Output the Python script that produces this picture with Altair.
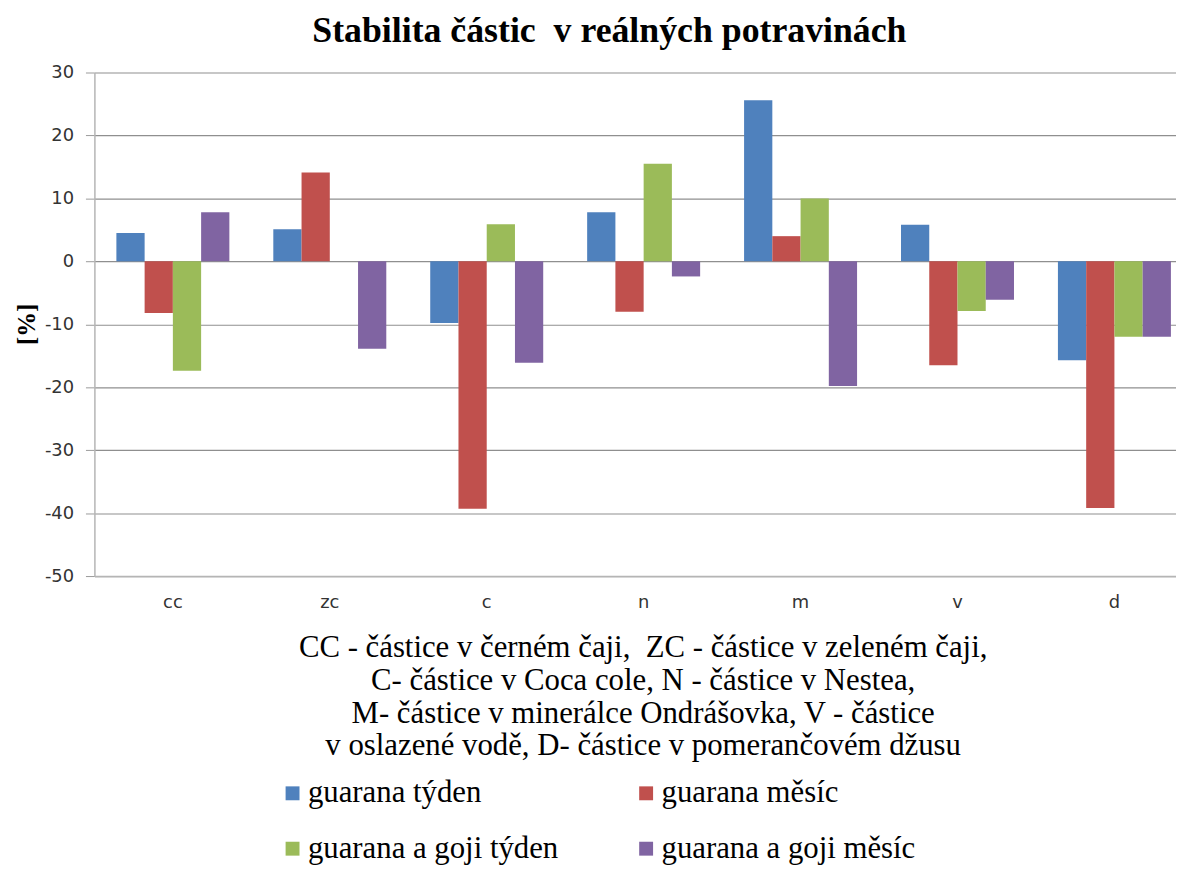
import altair as alt
import pandas as pd

categories = ["cc", "zc", "c", "n", "m", "v", "d"]
series_names = ["guarana týden", "guarana měsíc", "guarana a goji týden", "guarana a goji měsíc"]
guarana_tyden = [4.5, 5.1, -9.8, 7.8, 25.6, 5.8, -15.7]
guarana_mesic = [-8.2, 14.1, -39.3, -8.0, 4.0, -16.5, -39.2]
goji_tyden = [-17.4, 0.0, 5.9, 15.5, 10.0, -7.9, -12.0]
goji_mesic = [7.8, -13.9, -16.1, -2.4, -19.8, -6.1, -12.0]
colors = ["#4F81BD", "#C0504D", "#9BBB59", "#8064A2"]

x_title = [
    "CC - částice v černém čaji,\u00a0 ZC - částice v zeleném čaji,",
    "C- částice v Coca cole, N - částice v Nestea,",
    "M- částice v minerálce Ondrášovka, V - částice",
    "v oslazené vodě, D- částice v pomerančovém džusu",
]
chart_title = "Stabilita částic\u00a0 v reálných potravinách"

rows = []
for name, vals in zip(series_names, [guarana_tyden, guarana_mesic, goji_tyden, goji_mesic]):
    for c, v in zip(categories, vals):
        rows.append({"kat": c, "serie": name, "hodnota": v})
df = pd.DataFrame(rows)

serif = "Liberation Serif"
sans = "DejaVu Sans"

chart = alt.Chart(df).mark_bar().encode(
    x=alt.X(
        "kat:N",
        sort=categories,
        scale=alt.Scale(range=[0, 1106], paddingInner=0.28, paddingOuter=0.14),
        axis=alt.Axis(
            title=x_title,
            labelAngle=0,
            ticks=False,
            domainColor="#b5b5b5",
            domainWidth=1.5,
            labelFont=sans,
            labelFontSize=18,
            labelColor="#333333",
            labelPadding=18,
            titleFont=serif,
            titleFontSize=31,
            titleFontWeight="normal",
            titleColor="#000000",
            titleLineHeight=33,
            titlePadding=21,
            titleX=552,
        ),
    ),
    xOffset=alt.XOffset("serie:N", sort=series_names),
    y=alt.Y(
        "hodnota:Q",
        scale=alt.Scale(domain=[-50, 30], nice=False),
        axis=alt.Axis(
            values=list(range(-50, 31, 10)),
            labelExpr="toString(datum.value)",
            title="[%]",
            titleFont=serif,
            titleFontSize=25,
            titleFontWeight="bold",
            titleColor="#000000",
            titleX=-68,
            titleY=253,
            titleAngle=-90,
            titleBaseline="middle",
            labelFont=sans,
            labelFontSize=18,
            labelColor="#333333",
            labelPadding=12,
            tickSize=9,
            tickColor="#9a9a9a",
            domainColor="#b5b5b5",
            domainWidth=1.5,
            gridColor="#8f8f8f",
            gridWidth=1.2,
        ),
    ),
    color=alt.Color(
        "serie:N",
        sort=series_names,
        scale=alt.Scale(domain=series_names, range=colors),
        legend=alt.Legend(
            title=None,
            orient="none",
            direction="horizontal",
            legendX=184,
            legendY=710,
            padding=0,
            columns=2,
            columnPadding=72,
            rowPadding=24,
            symbolType="square",
            symbolSize=196,
            symbolStrokeWidth=0,
            symbolOffset=0,
            labelFont=serif,
            labelFontSize=31,
            labelColor="#000000",
            labelOffset=0,
            labelLimit=500,
        ),
    ),
).properties(
    width=1089,
    height=507,
    title=alt.Title(
        chart_title,
        font=serif,
        fontSize=36,
        fontWeight="bold",
        color="#000000",
        anchor="middle",
        dx=-26,
        offset=14,
    ),
    padding={"left": 87, "top": 62, "right": 0, "bottom": 292},
    autosize=alt.AutoSizeParams(type="none"),
).configure_view(stroke=None)

chart.save("out.html", embed_options={"renderer": "svg", "actions": False})
